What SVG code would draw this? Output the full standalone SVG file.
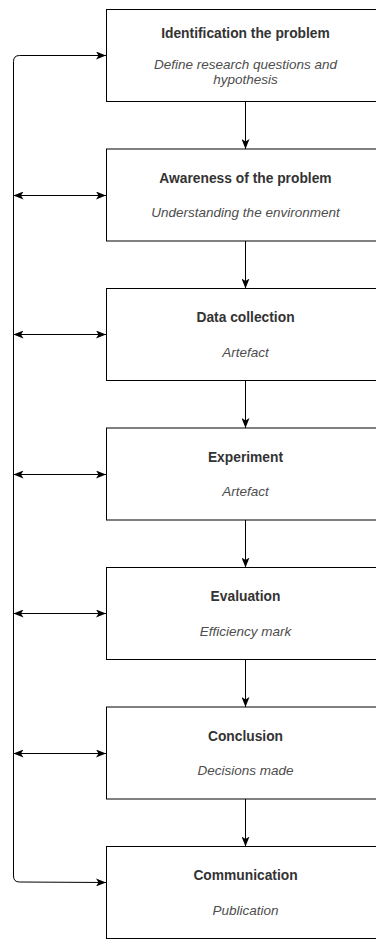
<svg xmlns="http://www.w3.org/2000/svg" width="376" height="940" viewBox="0 0 376 940">
  <style>
    .box { fill: #ffffff; stroke: #000000; stroke-width: 1; }
    .title { font-family: "Liberation Sans", Arial, sans-serif; font-size: 13.8px; font-weight: bold; fill: #333333; text-anchor: middle; }
    .sub { font-family: "Liberation Sans", Arial, sans-serif; font-size: 13.5px; font-style: italic; fill: #4d4d4d; text-anchor: middle; }
    .edge { fill: none; stroke: #000000; stroke-width: 1; }
  </style>
  <defs>
    <marker id="arrow" viewBox="0 0 10 8" refX="10" refY="4" markerWidth="10" markerHeight="8" markerUnits="userSpaceOnUse" orient="auto-start-reverse">
      <path d="M0,0 L10,4 L0,8 L2.5,4 Z" fill="#000000"/>
    </marker>
  </defs>
  <rect width="376" height="940" fill="#ffffff"/>

  <!-- connectors -->
  <g id="connectors">
    <!-- feedback loop from Communication back to Identification -->
    <path class="edge" d="M106,55.5 L19.5,55.5 Q13.5,55.5 13.5,61.5 L13.5,876 Q13.5,882 19.5,882 L106,882.5" marker-start="url(#arrow)" marker-end="url(#arrow)"/>
    <!-- links between the loop and the middle stages -->
    <path class="edge" d="M13.5,195.5 L106,195.5" marker-start="url(#arrow)" marker-end="url(#arrow)"/>
    <path class="edge" d="M13.5,334.5 L106,334.5" marker-start="url(#arrow)" marker-end="url(#arrow)"/>
    <path class="edge" d="M13.5,474.5 L106,474.5" marker-start="url(#arrow)" marker-end="url(#arrow)"/>
    <path class="edge" d="M13.5,613.5 L106,613.5" marker-start="url(#arrow)" marker-end="url(#arrow)"/>
    <path class="edge" d="M13.5,753.5 L106,753.5" marker-start="url(#arrow)" marker-end="url(#arrow)"/>
    <!-- stage to stage -->
    <path class="edge" d="M245.5,101.5 L245.5,149" marker-end="url(#arrow)"/>
    <path class="edge" d="M245.5,241 L245.5,288.5" marker-end="url(#arrow)"/>
    <path class="edge" d="M245.5,380.5 L245.5,428" marker-end="url(#arrow)"/>
    <path class="edge" d="M245.5,520 L245.5,567.5" marker-end="url(#arrow)"/>
    <path class="edge" d="M245.5,659.5 L245.5,707" marker-end="url(#arrow)"/>
    <path class="edge" d="M245.5,799 L245.5,846.5" marker-end="url(#arrow)"/>
  </g>

  <g id="identification">
    <rect class="box" x="106.5" y="9.5" width="279" height="92"/>
    <text class="title" x="245.5" y="38">Identification the problem</text>
    <text class="sub" x="245.5" y="68.5">Define research questions and</text>
    <text class="sub" x="245.5" y="83.5">hypothesis</text>
  </g>
  <g id="awareness">
    <rect class="box" x="106.5" y="149" width="279" height="92"/>
    <text class="title" x="245.5" y="182.5">Awareness of the problem</text>
    <text class="sub" x="245.5" y="217">Understanding the environment</text>
  </g>
  <g id="data-collection">
    <rect class="box" x="106.5" y="288.5" width="279" height="92"/>
    <text class="title" x="245.5" y="322">Data collection</text>
    <text class="sub" x="245.5" y="356.5">Artefact</text>
  </g>
  <g id="experiment">
    <rect class="box" x="106.5" y="428" width="279" height="92"/>
    <text class="title" x="245.5" y="461.5">Experiment</text>
    <text class="sub" x="245.5" y="496">Artefact</text>
  </g>
  <g id="evaluation">
    <rect class="box" x="106.5" y="567.5" width="279" height="92"/>
    <text class="title" x="245.5" y="601">Evaluation</text>
    <text class="sub" x="245.5" y="635.5">Efficiency mark</text>
  </g>
  <g id="conclusion">
    <rect class="box" x="106.5" y="707" width="279" height="92"/>
    <text class="title" x="245.5" y="740.5">Conclusion</text>
    <text class="sub" x="245.5" y="775">Decisions made</text>
  </g>
  <g id="communication">
    <rect class="box" x="106.5" y="846.5" width="279" height="92"/>
    <text class="title" x="245.5" y="880">Communication</text>
    <text class="sub" x="245.5" y="914.5">Publication</text>
  </g>
</svg>
